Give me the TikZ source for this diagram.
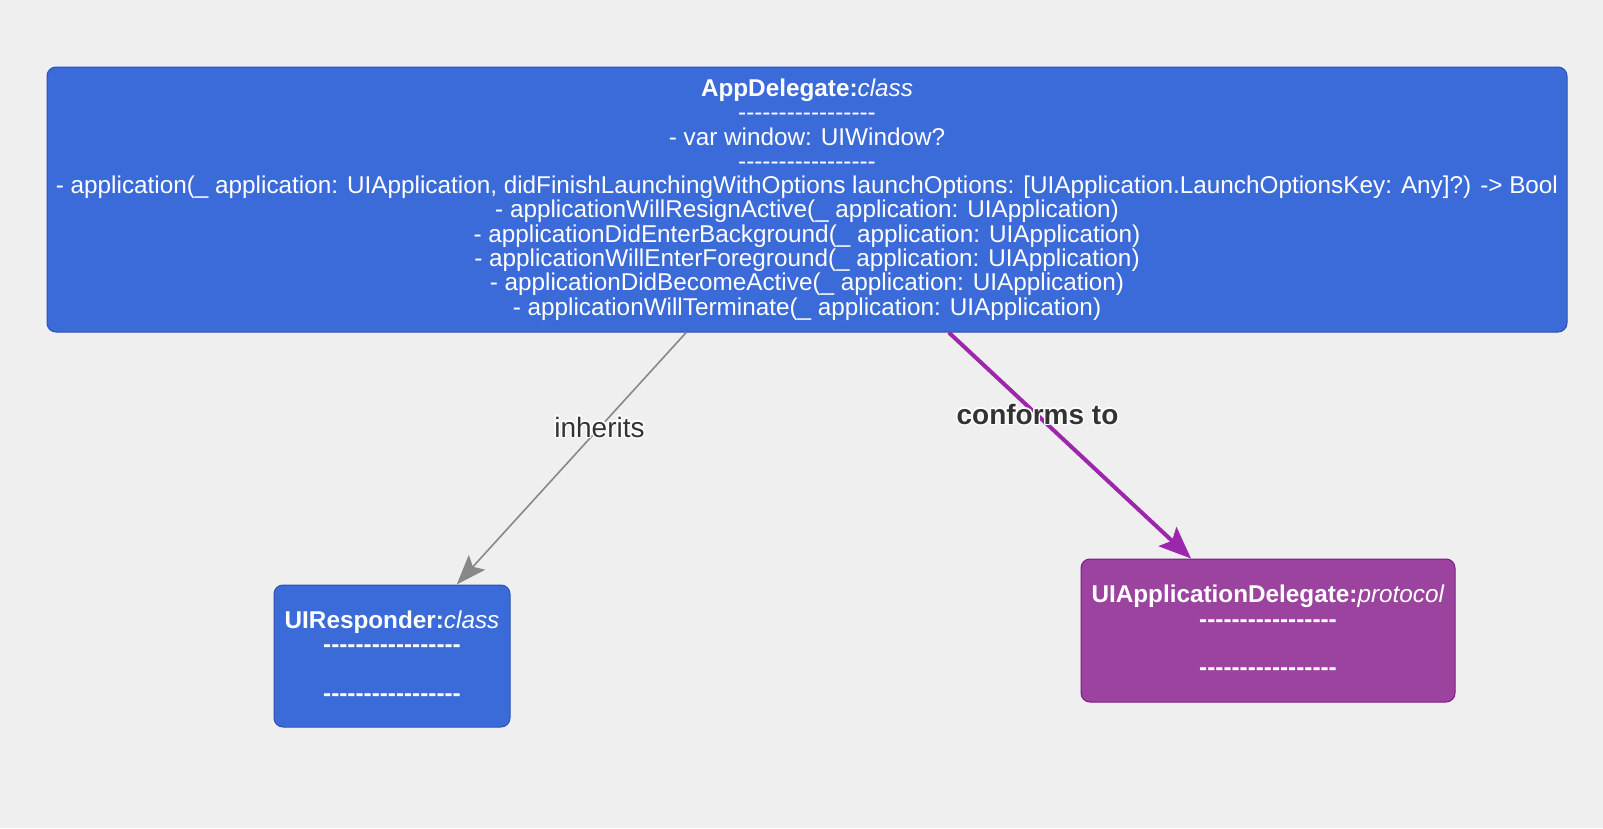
\documentclass[tikz,border=0pt]{standalone}
\usepackage{fontspec}
\setmainfont{Liberation Sans}[Ligatures=TeXOff]
\usepackage{contour}
\contourlength{1.4pt}
\usetikzlibrary{arrows.meta,calc}
\definecolor{pagebg}{RGB}{239,239,239}
\definecolor{classblue}{RGB}{59,107,217}
\definecolor{classedge}{RGB}{44,80,180}
\definecolor{protopurple}{RGB}{156,67,160}
\definecolor{protoedge}{RGB}{125,26,133}
\definecolor{confpurple}{RGB}{156,39,170}
\definecolor{inhgray}{RGB}{136,136,136}
\definecolor{labtext}{RGB}{51,51,51}
\newcommand{\sepline}{-----------------}

\begin{document}
\begin{tikzpicture}[x=1pt,y=-1pt,
  umlbox/.style={rounded corners=9pt,line width=1pt,inner sep=0pt,align=center,text=white,
    font=\fontsize{24.3}{24.3}\selectfont},
  classbox/.style={umlbox,fill=classblue,draw=classedge},
  protobox/.style={umlbox,fill=protopurple,draw=protoedge},
  inherit/.style={draw=inhgray,line width=1.6pt,-{Stealth[length=30pt,width=22pt,inset=6pt]}},
  conform/.style={draw=confpurple,line width=4pt,-{Stealth[length=32pt,width=26pt,inset=6pt]}},
  edgelabel/.style={text=labtext,inner sep=0pt,font=\fontsize{28}{30}\selectfont}]
\useasboundingbox[fill=pagebg] (0,0) rectangle (1603,828);
% ---------- class nodes ----------
\node[classbox,minimum width=1520pt,minimum height=265pt] (appdelegate) at (807,199.5)
  {\textbf{AppDelegate:}\textit{class}\\
   \sepline\\
   - var window: UIWindow?\\
   \sepline\\
   - application(\_ application: UIApplication, didFinishLaunchingWithOptions launchOptions: [UIApplication.LaunchOptionsKey: Any]?) -> Bool\\
   - applicationWillResignActive(\_ application: UIApplication)\\
   - applicationDidEnterBackground(\_ application: UIApplication)\\
   - applicationWillEnterForeground(\_ application: UIApplication)\\
   - applicationDidBecomeActive(\_ application: UIApplication)\\
   - applicationWillTerminate(\_ application: UIApplication)};
\node[classbox,minimum width=236pt,minimum height=142pt] (uiresponder) at (392,656)
  {\textbf{UIResponder:}\textit{class}\\ \textbf{\sepline}\\ ~\\ \textbf{\sepline}};
\node[protobox,minimum width=374pt,minimum height=143pt] (appdelproto) at (1268,630.5)
  {\textbf{UIApplicationDelegate:}\textit{protocol}\\ \textbf{\sepline}\\ ~\\ \textbf{\sepline}};
% ---------- relations ----------
\draw[inherit] (appdelegate) -- (uiresponder);
\draw[conform] (appdelegate) -- (appdelproto);
\node[edgelabel] (inheritslabel) at ($(appdelegate)!0.5!(uiresponder)$) {\contour{white}{inherits}};
\node[edgelabel] (conformslabel) at ($(appdelegate)!0.5!(appdelproto)$) {\contour{white}{\textbf{conforms to}}};
\end{tikzpicture}
\end{document}
